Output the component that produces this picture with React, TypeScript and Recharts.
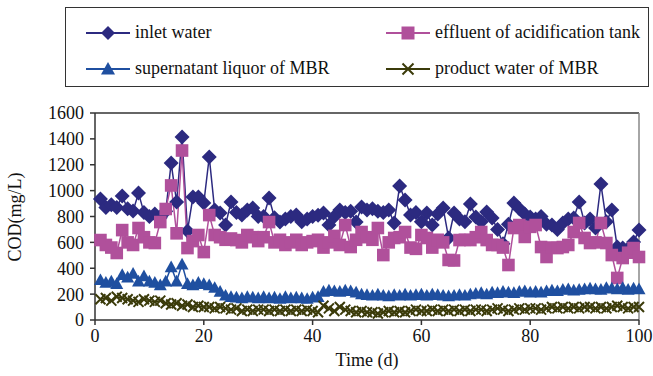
import React from 'react';
import { LineChart, Line, XAxis, YAxis, ReferenceLine } from 'recharts';

const days = Array.from({ length: 100 }, (_, i) => i + 1);

const inletWater = [
    935, 870, 890, 870, 958, 860, 842, 981, 830, 800,
    820, 790, 840, 1213, 912, 1414, 688, 950, 950, 904,
    1260, 850, 827, 734, 912, 830, 811, 850, 865, 800,
    800, 943, 790, 757, 780, 800, 811, 760, 780, 800,
    810, 827, 734, 800, 850, 830, 840, 757, 873, 850,
    860, 840, 830, 850, 750, 1035, 927, 811, 830, 760,
    827, 734, 820, 865, 634, 827, 780, 760, 896, 796,
    760, 835, 788, 700, 590, 740, 904, 860, 820, 796,
    780, 800, 740, 734, 700, 750, 780, 788, 912, 750,
    780, 711, 1051, 760, 850, 564, 556, 550, 603, 695,
];

const acidEffluent = [
    618, 580, 560, 518, 695, 600, 580, 711, 640, 600,
    595, 757, 858, 1040, 670, 1310, 556, 610, 657, 525,
    811, 657, 640, 620, 630, 618, 600, 657, 640, 610,
    640, 757, 600, 620, 580, 600, 620, 580, 600, 610,
    620, 560, 600, 650, 580, 734, 564, 620, 680, 640,
    620, 711, 502, 600, 634, 640, 680, 560, 550, 657,
    634, 560, 620, 600, 464, 460, 618, 620, 618, 640,
    680, 618, 580, 580, 560, 425, 711, 734, 642, 720,
    734, 564, 487, 560, 556, 564, 580, 680, 750, 634,
    595, 600, 750, 595, 502, 325, 479, 520, 556, 487,
];

const supernatant = [
    310, 290, 300, 280, 350, 330, 360, 300, 340, 300,
    290, 270, 300, 410, 300, 430, 280, 270, 290, 280,
    270, 250, 220, 190, 180, 175, 170, 180, 175, 170,
    180, 170, 175, 165, 180, 170, 175, 170, 165, 175,
    180, 220, 230, 225, 220, 230, 225, 215, 200, 195,
    190, 200, 190, 185, 195, 190, 200, 190, 195, 200,
    190, 200, 195, 190, 185, 190, 195, 190, 200, 205,
    210, 200, 215, 210, 220, 215, 210, 220, 225, 215,
    220, 215, 225, 230, 225, 235, 240, 230, 235, 240,
    245, 240, 235, 250, 245, 240, 250, 235, 245, 240,
];

const productWater = [
    160, 170, 150, 180, 170, 160, 150, 140, 160, 150,
    140, 150, 130, 120, 130, 110, 120, 100, 110, 100,
    100, 90, 100, 90, 80, 90, 70, 80, 70, 80,
    80, 70, 80, 70, 80, 70, 80, 70, 80, 70,
    60, 110, 90, 70, 100, 80, 70, 60, 70, 60,
    60, 50, 60, 70, 60, 70, 60, 70, 80, 70,
    70, 80, 70, 80, 70, 80, 70, 80, 70, 80,
    80, 70, 80, 90, 80, 70, 80, 90, 80, 90,
    90, 80, 90, 100, 90, 100, 90, 100, 90, 100,
    100, 90, 100, 90, 100, 110, 100, 90, 100, 100,
];

const xTicks = [0, 20, 40, 60, 80, 100];
const yTicks = [0, 200, 400, 600, 800, 1000, 1200, 1400, 1600];

const data = days.map((d, i) => ({
    day: d,
    inlet: inletWater[i],
    effluent: acidEffluent[i],
    supernatant: supernatant[i],
    product: productWater[i],
}));

const C_INLET = '#2c2a80';
const C_EFFL = '#b0509b';
const C_SUPER = '#1f4fa0';
const C_PROD = '#3b3b0a';
const FONT = '"Liberation Serif", "Times New Roman", serif';

const diamond = (cx: number, cy: number, r: number) =>
    `M${cx},${cy - r}L${cx + r},${cy}L${cx},${cy + r}L${cx - r},${cy}Z`;
const square = (cx: number, cy: number, r: number) =>
    `M${cx - r},${cy - r}H${cx + r}V${cy + r}H${cx - r}Z`;
const triangle = (cx: number, cy: number, r: number) =>
    `M${cx},${cy - r}L${cx + r},${cy + r * 0.8}L${cx - r},${cy + r * 0.8}Z`;
const cross = (cx: number, cy: number, r: number) =>
    `M${cx - r},${cy - r}L${cx + r},${cy + r}M${cx + r},${cy - r}L${cx - r},${cy + r}`;

const renderDiamond = (p: any) => <path key={`i${p.index}`} d={diamond(p.cx, p.cy, 7.5)} fill={C_INLET} />;
const renderSquare = (p: any) => <path key={`e${p.index}`} d={square(p.cx, p.cy, 6.3)} fill={C_EFFL} />;
const renderTriangle = (p: any) => <path key={`s${p.index}`} d={triangle(p.cx, p.cy, 6.5)} fill={C_SUPER} />;
const renderCross = (p: any) => (
    <path key={`p${p.index}`} d={cross(p.cx, p.cy, 5)} stroke={C_PROD} strokeWidth={2} fill="none" />
);

function LegendIcon({ kind, color }: { kind: string; color: string }) {
    let mark;
    if (kind === 'diamond') mark = <path d={diamond(22, 10, 7)} fill={color} />;
    if (kind === 'square') mark = <path d={square(22, 10, 6.5)} fill={color} />;
    if (kind === 'triangle') mark = <path d={triangle(22, 10, 7)} fill={color} />;
    if (kind === 'cross') mark = <path d={cross(22, 10, 5.5)} stroke={color} strokeWidth={2} fill="none" />;
    return (
        <svg width={44} height={20} style={{ display: 'block' }}>
            <line x1={0} y1={10} x2={44} y2={10} stroke={color} strokeWidth={2} />
            {mark}
        </svg>
    );
}

const legendItems = [
    { name: 'inlet water', kind: 'diamond', color: C_INLET, left: 20, top: 14 },
    { name: 'effluent of acidification tank', kind: 'square', color: C_EFFL, left: 320, top: 14 },
    { name: 'supernatant liquor of MBR', kind: 'triangle', color: C_SUPER, left: 20, top: 50 },
    { name: 'product water of MBR', kind: 'cross', color: C_PROD, left: 320, top: 50 },
];

export default function App() {
    return (
        <div style={{ position: 'absolute', left: 0, top: 0, width: 653, height: 376, background: '#fff', fontFamily: FONT }}>
            <div
                style={{
                    position: 'absolute', left: 65, top: 7, width: 584, height: 80,
                    border: '1.5px solid #333', boxSizing: 'border-box',
                }}
            >
                {legendItems.map((it) => (
                    <div
                        key={it.name}
                        style={{ position: 'absolute', left: it.left, top: it.top, display: 'flex', alignItems: 'center', gap: 5 }}
                    >
                        <LegendIcon kind={it.kind} color={it.color} />
                        <span style={{ fontSize: 18, color: '#111', whiteSpace: 'nowrap' }}>{it.name}</span>
                    </div>
                ))}
            </div>

            <LineChart
                width={653}
                height={376}
                data={data}
                margin={{ top: 113, right: 14, bottom: 16, left: 35 }}
                style={{ position: 'absolute', left: 0, top: 0 }}
            >
                <XAxis
                    dataKey="day"
                    type="number"
                    domain={[0, 100]}
                    ticks={xTicks}
                    height={40}
                    stroke="#333"
                    strokeWidth={1.5}
                    tickSize={5}
                    tickMargin={4}
                    tick={{ fill: '#111', fontSize: 18, fontFamily: FONT }}
                    label={{ value: 'Time (d)', position: 'insideBottom', offset: -6, fill: '#111', fontSize: 18, fontFamily: FONT }}
                />
                <YAxis
                    type="number"
                    domain={[0, 1600]}
                    ticks={yTicks}
                    width={60}
                    stroke="#333"
                    strokeWidth={1.5}
                    tickSize={5}
                    tickMargin={6}
                    interval={0}
                    tick={{ fill: '#111', fontSize: 18, fontFamily: FONT }}
                    label={{ value: 'COD(mg/L)', angle: -90, position: 'insideLeft', offset: -20, dy: 45, fill: '#111', fontSize: 18, fontFamily: FONT }}
                />
                <ReferenceLine y={1600} stroke="#333" strokeWidth={1.5} />
                <ReferenceLine x={100} stroke="#888" strokeWidth={1.5} />
                <Line dataKey="inlet" stroke={C_INLET} strokeWidth={1.5} dot={renderDiamond} isAnimationActive={false} />
                <Line dataKey="effluent" stroke={C_EFFL} strokeWidth={1.5} dot={renderSquare} isAnimationActive={false} />
                <Line dataKey="supernatant" stroke={C_SUPER} strokeWidth={1.5} dot={renderTriangle} isAnimationActive={false} />
                <Line dataKey="product" stroke={C_PROD} strokeWidth={1.5} dot={renderCross} isAnimationActive={false} />
            </LineChart>
        </div>
    );
}
